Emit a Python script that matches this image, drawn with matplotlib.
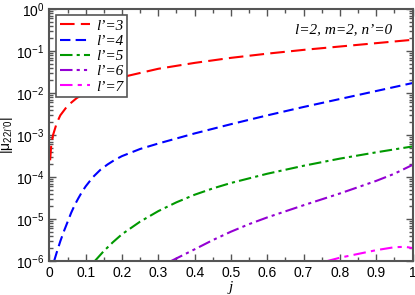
import numpy as np
import matplotlib
matplotlib.use("Agg")
import matplotlib.pyplot as plt

# data (j, log10|mu|)
j3 = [0.002, 0.005, 0.01, 0.02, 0.03, 0.05, 0.075, 0.1, 0.15, 0.2, 0.3, 0.4, 0.5, 0.6, 0.7, 0.8, 0.9, 1.0]
l3 = [-3.6, -3.25, -3.0, -2.72, -2.53, -2.3, -2.12, -1.98, -1.78, -1.62, -1.42, -1.28, -1.16, -1.06, -0.97, -0.89, -0.81, -0.73]

j4 = [0.013, 0.02, 0.03, 0.04, 0.05, 0.06, 0.07, 0.08, 0.09, 0.1, 0.12, 0.14, 0.16, 0.18, 0.2,
      0.25, 0.3, 0.35, 0.4, 0.45, 0.5, 0.6, 0.7, 0.8, 0.9, 1.0]
l4 = [-6.0, -5.8, -5.53, -5.29, -5.07, -4.85, -4.66, -4.5, -4.35, -4.22, -4.0, -3.83, -3.7, -3.59, -3.5,
      -3.33, -3.2, -3.08, -2.96, -2.85, -2.74, -2.53, -2.33, -2.14, -1.95, -1.76]

j5 = [0.125, 0.15, 0.175, 0.2, 0.25, 0.3, 0.35, 0.4, 0.45, 0.5, 0.55, 0.6, 0.7, 0.8, 0.9, 1.0]
l5 = [-6.0, -5.76, -5.55, -5.36, -5.06, -4.81, -4.6, -4.42, -4.27, -4.14, -4.03, -3.92, -3.73, -3.56, -3.41, -3.27]

j6 = [0.335, 0.4, 0.45, 0.5, 0.55, 0.6, 0.7, 0.8, 0.9, 0.95, 1.0]
l6 = [-6.0, -5.72, -5.5, -5.3, -5.12, -4.96, -4.67, -4.39, -4.09, -3.92, -3.71]

j7 = [0.765, 0.8, 0.85, 0.9, 0.95, 0.98, 1.0]
l7 = [-6.0, -5.92, -5.83, -5.74, -5.67, -5.66, -5.69]

labels = ["l\u2019=3", "l\u2019=4", "l\u2019=5", "l\u2019=6", "l\u2019=7"]
colors = ["#ff0000", "#0000ff", "#009900", "#9400d3", "#ff00ff"]
dashes = [(7, 3), (5, 2.5), (6, 2, 1.5, 2), (6, 2, 1.5, 2, 1.5, 2), (6, 2.5, 2, 2.5)]

plt.rcParams['font.family'] = 'Liberation Sans'
plt.rcParams['mathtext.fontset'] = 'custom'
plt.rcParams['mathtext.rm'] = 'Liberation Sans'
plt.rcParams['mathtext.it'] = 'Liberation Serif:italic'

fig = plt.figure(figsize=(4.15, 2.95), dpi=100)
ax = fig.add_axes([0.119, 0.115, 0.875, 0.854])

series = [(j3, l3), (j4, l4), (j5, l5), (j6, l6), (j7, l7)]
for (jj, ll), lab, c, d in zip(series, labels, colors, dashes):
    ax.plot(jj, 10.0 ** np.array(ll), color=c, lw=1.5, dashes=d, label=lab)

ax.set_yscale('log')
ax.set_xlim(0, 1)
ax.set_ylim(1e-6, 1)
ax.set_xticks(np.arange(0, 1.01, 0.1))
ax.set_xticklabels(["0", "0.1", "0.2", "0.3", "0.4", "0.5", "0.6", "0.7", "0.8", "0.9", "1"])
ax.set_xticks(np.arange(0.05, 1.0, 0.1), minor=True)
ax.tick_params(which='both', direction='in', top=True, right=True, labelsize=10, color='#555555')
ax.tick_params(which='major', length=5, width=1)
ax.tick_params(which='minor', length=3, width=1)
for s in ax.spines.values():
    s.set_color('#555555')
    s.set_linewidth(1.5)

ax.set_xlabel("j", fontfamily='Liberation Serif', fontstyle='italic', fontsize=11, labelpad=1)
ax.set_ylabel("$|\\mathrm{\u03bc}_{\\mathit{22l\u20190}}|$", fontsize=10, labelpad=0)
ax.yaxis.set_label_coords(-0.095, 0.5)

ax.text(0.943, 0.917, "l=2, m=2, n\u2019=0", transform=ax.transAxes, ha='right', va='center',
        fontfamily='Liberation Serif', fontstyle='italic', fontsize=11)

leg = ax.legend(loc='upper left', bbox_to_anchor=(0.018, 0.976), borderaxespad=0,
                prop={'family': 'Liberation Serif', 'style': 'italic', 'size': 11},
                fancybox=False, framealpha=1, edgecolor='#555555', handlelength=2.0,
                borderpad=0.25, labelspacing=0.1, handletextpad=0.4)
leg.get_frame().set_linewidth(1.2)

fig.savefig("out.png", dpi=100)
